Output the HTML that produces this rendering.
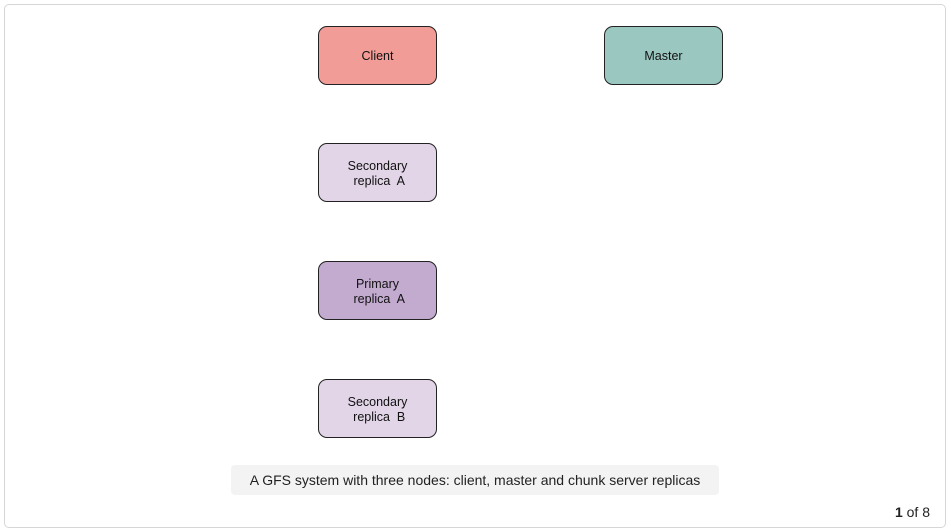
<!DOCTYPE html>
<html><head><style>
body{margin:0;width:951px;height:532px;background:#fff;position:relative;font-family:"Liberation Sans",sans-serif;overflow:hidden}
.frame{position:absolute;left:4px;top:4px;width:942px;height:524px;border:1px solid #d6d6d6;border-radius:5px;box-sizing:border-box}
.n{position:absolute;width:119px;height:59px;border:1px solid #222;border-radius:9px;box-sizing:border-box;display:flex;align-items:center;justify-content:center;text-align:center;font-size:12.5px;line-height:15px;color:#111;white-space:pre;padding-top:2px}
.cap{position:absolute;left:231px;top:465px;width:488px;height:30px;background:#f3f3f3;border-radius:4px;font-size:14px;color:#222;display:flex;align-items:center;justify-content:center}
.pg{position:absolute;right:21px;top:504px;font-size:14px;color:#222}
</style></head><body>
<div class="frame"></div>
<div class="n" style="left:318px;top:26px;background:#f19c97">Client</div>
<div class="n" style="left:604px;top:26px;background:#9bc7c1">Master</div>
<div class="n" style="left:318px;top:143px;background:#e1d5e7">Secondary
 replica  A</div>
<div class="n" style="left:318px;top:261px;background:#c3abd0">Primary
 replica  A</div>
<div class="n" style="left:318px;top:379px;background:#e1d5e7">Secondary
 replica  B</div>
<div class="cap">A GFS system with three nodes: client, master and chunk server replicas</div>
<div class="pg"><b>1</b> of 8</div>
</body></html>
